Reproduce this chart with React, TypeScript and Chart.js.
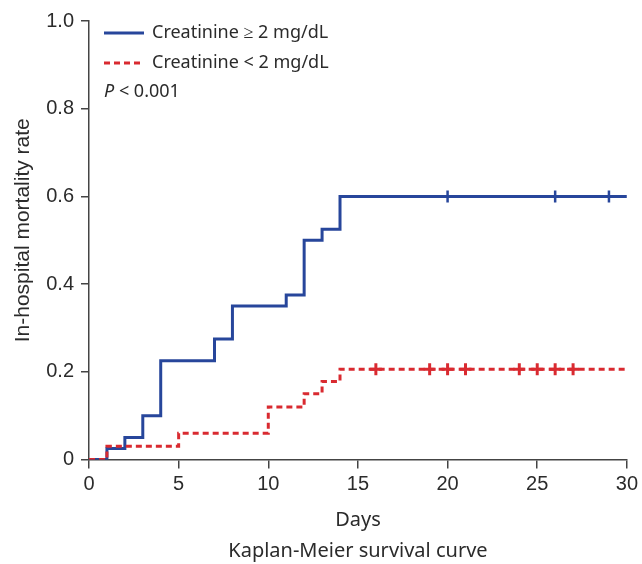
import React, { useEffect, useRef } from "react";
import { Chart, registerables } from "chart.js";

Chart.register(...registerables);

// Days at which each curve steps, and the cumulative mortality after the step
const highDays = [0, 1, 2, 3, 4, 7, 8, 11, 12, 13, 14, 30];
const highRate = [0, 0.025, 0.05, 0.1, 0.225, 0.275, 0.35, 0.375, 0.5, 0.525, 0.6, 0.6];
const lowDays = [0, 1, 5, 10, 12, 13, 14, 30];
const lowRate = [0, 0.03, 0.06, 0.12, 0.15, 0.178, 0.206, 0.206];
// Censored observations
const highCensorDays = [20, 26, 29];
const highCensorRate = [0.6, 0.6, 0.6];
const lowCensorDays = [16, 19, 20, 21, 24, 25, 26, 27];
const lowCensorRate = [0.206, 0.206, 0.206, 0.206, 0.206, 0.206, 0.206, 0.206];

const xTicks = [0, 5, 10, 15, 20, 25, 30];
const yTicks = [0, 0.2, 0.4, 0.6, 0.8, 1.0];

const BLUE = "#27469b";
const RED = "#d92a30";
const AXIS = "#444444";
const TEXT = "#2b2b2b";

const legendLabels = ["Creatinine \u2265 2 mg/dL", "Creatinine < 2 mg/dL"];
const yTitle = "In-hospital mortality rate";

const zip = (xs: number[], ys: number[]) => xs.map((x, i) => ({ x, y: ys[i] }));

const legendPlugin = {
  id: "kmLegend",
  afterDraw(chart: any) {
    const { ctx, chartArea } = chart;
    const x0 = chartArea.left + 15;
    const y0 = chartArea.top + 12;
    ctx.save();
    ctx.font = '18px "Noto Sans"';
    ctx.textBaseline = "middle";
    ctx.fillStyle = TEXT;
    // line 1
    ctx.strokeStyle = BLUE;
    ctx.lineWidth = 3;
    ctx.setLineDash([]);
    ctx.beginPath();
    ctx.moveTo(x0, y0);
    ctx.lineTo(x0 + 40, y0);
    ctx.stroke();
    ctx.fillText(legendLabels[0], x0 + 48, y0);
    // line 2
    const y1 = y0 + 30;
    ctx.strokeStyle = RED;
    ctx.setLineDash([6, 4]);
    ctx.beginPath();
    ctx.moveTo(x0, y1);
    ctx.lineTo(x0 + 40, y1);
    ctx.stroke();
    ctx.setLineDash([]);
    ctx.fillText(legendLabels[1], x0 + 48, y1);
    // p-value
    const y2 = y1 + 29;
    ctx.font = 'italic 18px "Noto Sans"';
    ctx.fillText("P", x0, y2);
    const w = ctx.measureText("P").width;
    ctx.font = '18px "Noto Sans"';
    ctx.fillText(" < 0.001", x0 + w, y2);
    // y-axis title
    ctx.translate(23, (chartArea.top + chartArea.bottom) / 2 - 10);
    ctx.rotate(-Math.PI / 2);
    ctx.font = '21px "Liberation Sans"';
    ctx.textAlign = "center";
    ctx.fillText(yTitle, 0, 0);
    ctx.restore();
  },
};

export default function App() {
  const ref = useRef<HTMLCanvasElement | null>(null);

  useEffect(() => {
    if (!ref.current) return;
    const chart = new Chart(ref.current, {
      type: "line",
      data: {
        datasets: [
          {
            label: legendLabels[0],
            data: zip(highDays, highRate),
            borderColor: BLUE,
            borderWidth: 3,
            stepped: "before",
            pointRadius: 0,
            fill: false,
            order: 2,
          },
          {
            label: legendLabels[1],
            data: zip(lowDays, lowRate),
            borderColor: RED,
            borderWidth: 3,
            borderDash: [6, 4],
            stepped: "before",
            pointRadius: 0,
            fill: false,
            order: 1,
          },
          {
            label: "censored high",
            data: zip(highCensorDays, highCensorRate),
            showLine: false,
            pointStyle: "line",
            rotation: 90,
            pointRadius: 6,
            borderColor: BLUE,
            backgroundColor: BLUE,
            pointBorderWidth: 2.5,
            order: 0,
          } as any,
          {
            label: "censored low",
            data: zip(lowCensorDays, lowCensorRate),
            showLine: false,
            pointStyle: "cross",
            pointRadius: 6,
            borderColor: RED,
            backgroundColor: RED,
            pointBorderWidth: 3,
            order: 0,
          } as any,
        ],
      },
      options: {
        animation: false,
        responsive: false,
        maintainAspectRatio: false,
        layout: { padding: { left: 0, right: 13, top: 21, bottom: 0 } },
        plugins: {
          legend: { display: false },
          tooltip: { enabled: false },
          title: {
            display: true,
            position: "bottom",
            fullSize: false,
            text: "Kaplan-Meier survival curve",
            color: TEXT,
            font: { family: "Noto Sans", size: 20, weight: "normal" },
            padding: { top: 4, bottom: 1 },
          },
        },
        scales: {
          x: {
            type: "linear",
            min: 0,
            max: 30,
            afterBuildTicks: (s: any) => {
              s.ticks = xTicks.map((v) => ({ value: v }));
            },
            afterFit: (s: any) => {
              s.height = 75.5;
            },
            ticks: {
              color: TEXT,
              font: { family: "Liberation Sans", size: 20 },
              padding: 4,
              maxRotation: 0,
            },
            grid: {
              drawOnChartArea: false,
              drawTicks: true,
              tickLength: 9,
              color: AXIS,
              lineWidth: 1.5,
            },
            border: { display: true, color: AXIS, width: 1.5 },
            title: {
              display: true,
              text: "Days",
              color: TEXT,
              font: { family: "Noto Sans", size: 20 },
              padding: { top: 0, bottom: 3 },
            },
          },
          y: {
            type: "linear",
            min: 0,
            max: 1,
            afterBuildTicks: (s: any) => {
              s.ticks = yTicks.map((v) => ({ value: v }));
            },
            afterFit: (s: any) => {
              s.width = 89;
            },
            ticks: {
              color: TEXT,
              font: { family: "Liberation Sans", size: 20 },
              padding: 7,
              callback: (v: any) => (v === 0 ? "0" : Number(v).toFixed(1)),
            },
            grid: {
              drawOnChartArea: false,
              drawTicks: true,
              tickLength: 8,
              color: AXIS,
              lineWidth: 1.5,
            },
            border: { display: true, color: AXIS, width: 1.5 },
            title: { display: false },
          },
        },
      },
      plugins: [legendPlugin],
    });
    return () => chart.destroy();
  }, []);

  return (
    <div style={{ position: "fixed", left: 0, top: 0, width: 642, height: 564, background: "#fff" }}>
      <canvas ref={ref} width={642} height={564} style={{ width: 642, height: 564, display: "block" }} />
    </div>
  );
}
